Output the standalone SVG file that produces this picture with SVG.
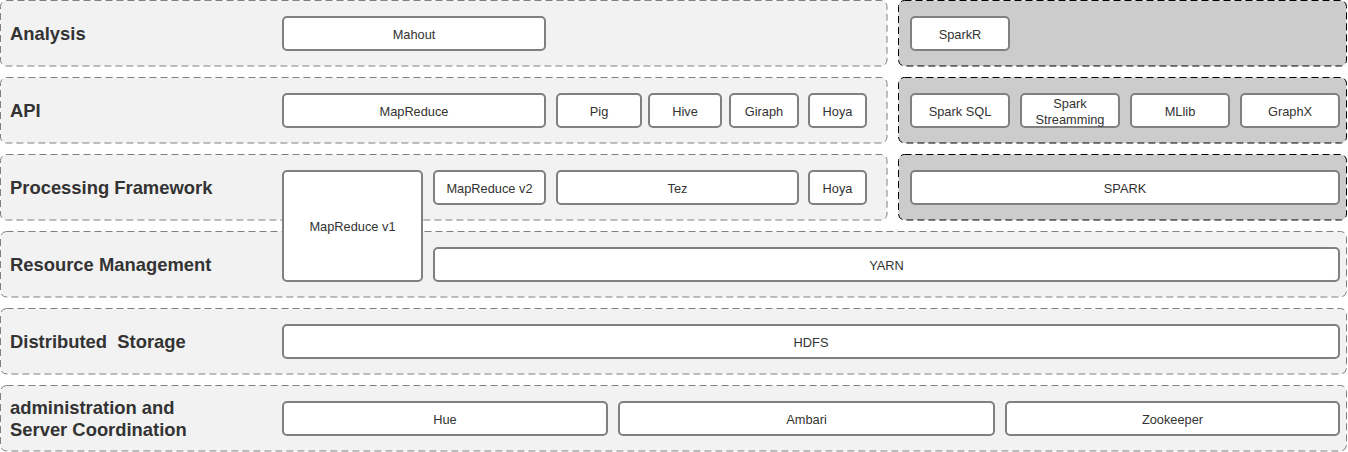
<svg xmlns="http://www.w3.org/2000/svg" width="1348" height="452" viewBox="0 0 1348 452">
<style>
.lay{fill:#f2f2f2;stroke:#808080;stroke-width:1;stroke-dasharray:7 4}
.spk{fill:#cccccc;stroke:#000000;stroke-width:1;stroke-dasharray:7 4}
.nd{fill:#ffffff;stroke:#808080;stroke-width:2}
.lbl{font-family:"Liberation Sans",Arial,sans-serif;font-size:18.4px;font-weight:bold;fill:#333333}
.t{font-family:"Liberation Sans",Arial,sans-serif;font-size:12.8px;fill:#333333;text-anchor:middle;dominant-baseline:central}
</style>
<rect width="1348" height="452" fill="#ffffff"/>
<g id="layers">
<g id="layer-analysis"><rect class="lay" x="0.5" y="0.5" width="886.5" height="65.5" rx="6"/><text class="lbl" x="10" y="40">Analysis</text></g>
<g id="layer-api"><rect class="lay" x="0.5" y="77.5" width="886.5" height="65.5" rx="6"/><text class="lbl" x="10" y="117">API</text></g>
<g id="layer-processing"><rect class="lay" x="0.5" y="154.5" width="886.5" height="65.5" rx="6"/><text class="lbl" x="10" y="194">Processing Framework</text></g>
<g id="layer-resource"><rect class="lay" x="0.5" y="231.5" width="1346" height="65.5" rx="6"/><text class="lbl" x="10" y="271">Resource Management</text></g>
<g id="layer-storage"><rect class="lay" x="0.5" y="308.5" width="1346" height="65.5" rx="6"/><text class="lbl" x="10" y="348" xml:space="preserve">Distributed  Storage</text></g>
<g id="layer-admin"><rect class="lay" x="0.5" y="385.5" width="1346" height="65.5" rx="6"/><text class="lbl" x="10" y="414">administration and</text><text class="lbl" x="10" y="436">Server Coordination</text></g>
<g id="spark-analysis"><rect class="spk" x="898.5" y="0.5" width="448" height="65.5" rx="6"/></g>
<g id="spark-api"><rect class="spk" x="898.5" y="77.5" width="448" height="65.5" rx="6"/></g>
<g id="spark-processing"><rect class="spk" x="898.5" y="154.5" width="448" height="65.5" rx="6"/></g>
</g>
<g id="nodes">
<g id="mahout"><rect class="nd" x="283" y="17" width="262" height="33" rx="4"/><text class="t" x="414" y="34">Mahout</text></g>
<g id="sparkr"><rect class="nd" x="911" y="17" width="98" height="33" rx="4"/><text class="t" x="960" y="34">SparkR</text></g>
<g id="mapreduce"><rect class="nd" x="283" y="94" width="262" height="33" rx="4"/><text class="t" x="414" y="111">MapReduce</text></g>
<g id="pig"><rect class="nd" x="557" y="94" width="84" height="33" rx="4"/><text class="t" x="599" y="111">Pig</text></g>
<g id="hive"><rect class="nd" x="649" y="94" width="72" height="33" rx="4"/><text class="t" x="685" y="111">Hive</text></g>
<g id="giraph"><rect class="nd" x="730" y="94" width="68" height="33" rx="4"/><text class="t" x="764" y="111">Giraph</text></g>
<g id="hoya-api"><rect class="nd" x="809" y="94" width="57" height="33" rx="4"/><text class="t" x="837.5" y="111">Hoya</text></g>
<g id="spark-sql"><rect class="nd" x="911" y="94" width="98" height="33" rx="4"/><text class="t" x="960" y="111">Spark SQL</text></g>
<g id="spark-streamming"><rect class="nd" x="1021" y="94" width="98" height="33" rx="4"/><text class="t" x="1070" y="103">Spark</text><text class="t" x="1070" y="119">Streamming</text></g>
<g id="mllib"><rect class="nd" x="1131" y="94" width="98" height="33" rx="4"/><text class="t" x="1180" y="111">MLlib</text></g>
<g id="graphx"><rect class="nd" x="1241" y="94" width="98" height="33" rx="4"/><text class="t" x="1290" y="111">GraphX</text></g>
<g id="mapreduce-v1"><rect class="nd" x="283" y="171" width="139" height="110" rx="4"/><text class="t" x="352.5" y="226.5">MapReduce v1</text></g>
<g id="mapreduce-v2"><rect class="nd" x="434" y="171" width="111" height="33" rx="4"/><text class="t" x="489.5" y="188">MapReduce v2</text></g>
<g id="tez"><rect class="nd" x="557" y="171" width="241" height="33" rx="4"/><text class="t" x="677.5" y="188">Tez</text></g>
<g id="hoya-proc"><rect class="nd" x="809" y="171" width="57" height="33" rx="4"/><text class="t" x="837.5" y="188">Hoya</text></g>
<g id="spark"><rect class="nd" x="911" y="171" width="428" height="33" rx="4"/><text class="t" x="1125" y="188">SPARK</text></g>
<g id="yarn"><rect class="nd" x="434" y="248" width="905" height="33" rx="4"/><text class="t" x="886.5" y="265">YARN</text></g>
<g id="hdfs"><rect class="nd" x="283" y="325" width="1056" height="33" rx="4"/><text class="t" x="811" y="342">HDFS</text></g>
<g id="hue"><rect class="nd" x="283" y="402" width="324" height="33" rx="4"/><text class="t" x="445" y="419">Hue</text></g>
<g id="ambari"><rect class="nd" x="619" y="402" width="375" height="33" rx="4"/><text class="t" x="806.5" y="419">Ambari</text></g>
<g id="zookeeper"><rect class="nd" x="1006" y="402" width="333" height="33" rx="4"/><text class="t" x="1172.5" y="419">Zookeeper</text></g>
</g>
<g id="connectors"/>
</svg>
